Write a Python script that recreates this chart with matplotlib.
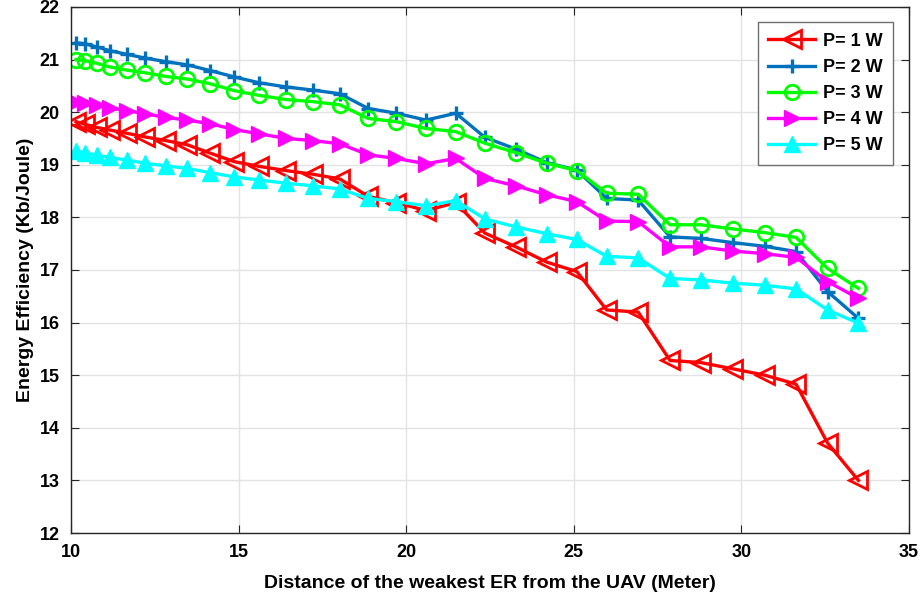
import matplotlib.pyplot as plt

plt.rcParams['font.family'] = ['Liberation Sans', 'DejaVu Sans']
plt.rcParams['font.weight'] = 'bold'

# distance of the weakest ER (m)
dist = [10.15, 10.42, 10.77, 11.16, 11.66, 12.21, 12.83, 13.47, 14.16, 14.87,
        15.61, 16.42, 17.22, 18.02, 18.87, 19.71, 20.59, 21.48, 22.35, 23.27,
        24.19, 25.09, 25.98, 26.92, 27.87, 28.79, 29.75, 30.70, 31.63, 32.57, 33.49]

# energy efficiency (Kb/Joule) per transmit power
ee_p1 = [19.82, 19.77, 19.71, 19.66, 19.60, 19.53, 19.46, 19.38, 19.22, 19.06,
         18.97, 18.89, 18.82, 18.73, 18.40, 18.28, 18.13, 18.28, 17.70, 17.44,
         17.15, 16.97, 16.24, 16.20, 15.28, 15.24, 15.12, 15.00, 14.83, 13.71, 13.00]
ee_p2 = [21.32, 21.30, 21.24, 21.17, 21.10, 21.03, 20.96, 20.90, 20.79, 20.67,
         20.56, 20.48, 20.42, 20.35, 20.07, 19.98, 19.85, 19.98, 19.52, 19.30,
         19.04, 18.90, 18.36, 18.33, 17.63, 17.60, 17.52, 17.45, 17.35, 16.59, 16.08]
ee_p3 = [21.00, 20.98, 20.93, 20.86, 20.80, 20.75, 20.68, 20.63, 20.54, 20.41,
         20.32, 20.24, 20.20, 20.14, 19.88, 19.82, 19.69, 19.63, 19.41, 19.23,
         19.03, 18.89, 18.46, 18.44, 17.86, 17.86, 17.78, 17.71, 17.62, 17.03, 16.65]
ee_p4 = [20.20, 20.17, 20.13, 20.08, 20.03, 19.97, 19.90, 19.85, 19.78, 19.67,
         19.59, 19.50, 19.46, 19.40, 19.19, 19.12, 19.02, 19.12, 18.74, 18.60,
         18.43, 18.30, 17.93, 17.92, 17.44, 17.44, 17.36, 17.31, 17.24, 16.78, 16.46]
ee_p5 = [19.26, 19.23, 19.18, 19.14, 19.09, 19.03, 18.98, 18.93, 18.85, 18.77,
         18.71, 18.65, 18.60, 18.54, 18.36, 18.30, 18.22, 18.32, 17.97, 17.82,
         17.69, 17.58, 17.26, 17.23, 16.84, 16.81, 16.75, 16.71, 16.64, 16.24, 15.99]

labels = ['P= 1 W', 'P= 2 W', 'P= 3 W', 'P= 4 W', 'P= 5 W']

fig = plt.figure(figsize=(9.24, 6.07), dpi=100)
ax = fig.add_axes([0.0768, 0.1219, 0.907, 0.8666])

ax.plot(dist, ee_p1, color='#ff0000', lw=2.4, marker='<', ms=12.5, mfc='none', mew=2.0, label=labels[0])
ax.plot(dist, ee_p2, color='#0072bd', lw=2.4, marker='+', ms=10, mew=2.4, label=labels[1])
ax.plot(dist, ee_p3, color='#00ff00', lw=2.4, marker='o', ms=10.5, mfc='none', mew=2.0, label=labels[2])
ax.plot(dist, ee_p4, color='#ff00ff', lw=2.4, marker='>', ms=11.5, label=labels[3])
ax.plot(dist, ee_p5, color='#00ffff', lw=2.4, marker='^', ms=11.5, label=labels[4])

ax.set_xlim(10, 35)
ax.set_ylim(12, 22)
ax.set_xticks(range(10, 36, 5))
ax.set_yticks(range(12, 23))
ax.grid(True, color='#e3e3e3', lw=1.0)
ax.set_axisbelow(True)
ax.tick_params(direction='in', top=True, right=True, labelsize=13, length=6, color='#262626')
ax.tick_params(axis='x', pad=8)
ax.tick_params(axis='y', pad=8)
for s in ax.spines.values():
    s.set_color('#262626')
    s.set_linewidth(1.0)

ax.set_xlabel('Distance of the weakest ER from the UAV (Meter)', fontsize=14, fontweight='bold', labelpad=10)
ax.set_ylabel('Energy Efficiency (Kb/Joule)', fontsize=14, fontweight='bold', labelpad=4)

leg = ax.legend(loc='upper right', bbox_to_anchor=(0.981, 0.9715), borderaxespad=0,
                fontsize=13, handlelength=2.6, handletextpad=0.4,
                fancybox=False, framealpha=1, edgecolor='#6e6e6e', borderpad=0.6, labelspacing=0.5)
leg.get_frame().set_linewidth(1.0)

fig.savefig('out.png', dpi=100)
